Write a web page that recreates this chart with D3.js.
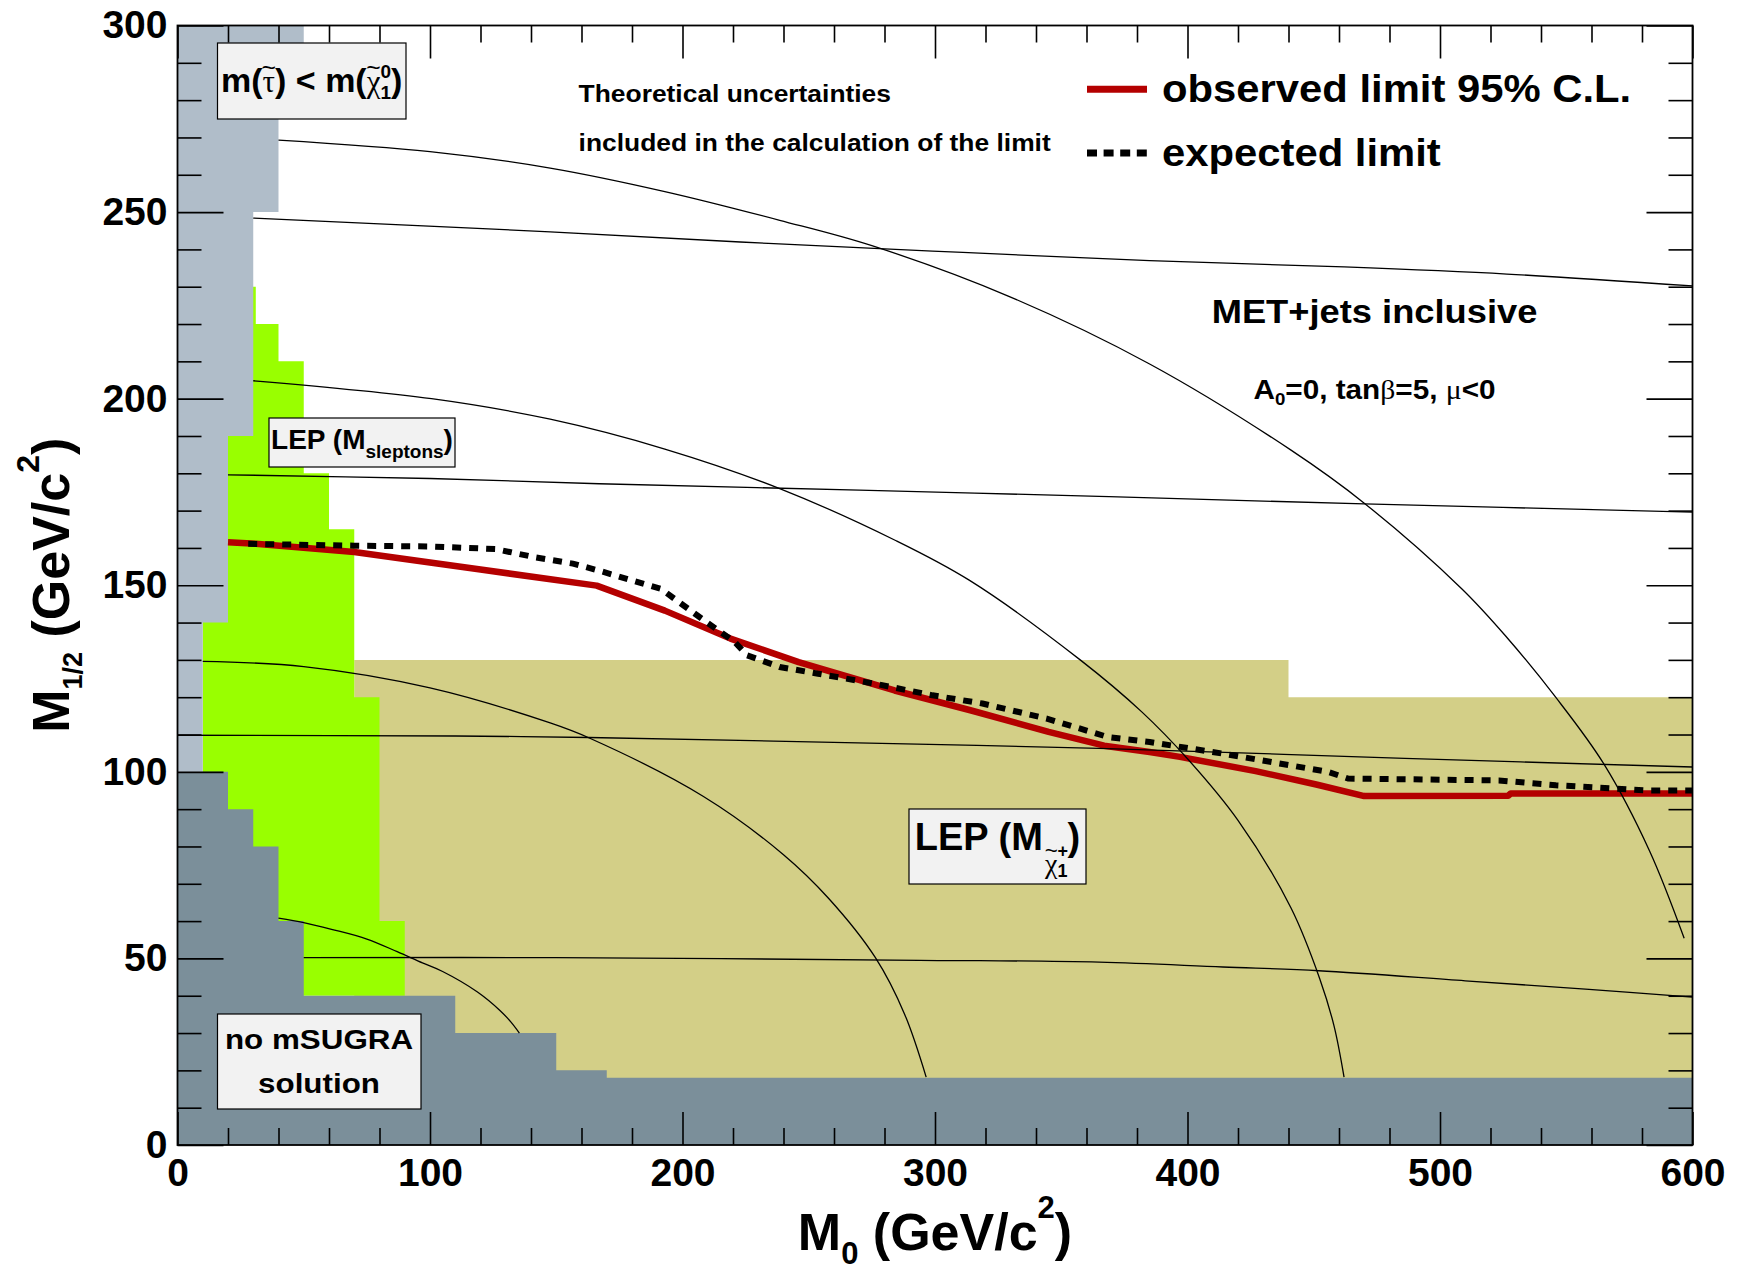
<!DOCTYPE html>
<html>
<head>
<meta charset="utf-8">
<script src="https://cdn.jsdelivr.net/npm/d3@7"></script>
<style>
  html, body { margin: 0; padding: 0; background: #fff; }
  svg text { white-space: pre; }
</style>
</head>
<body>
<svg id="chart" width="1738" height="1270"></svg>
<script>
// mSUGRA exclusion plane: M0 vs M1/2, A0=0, tanβ=5, μ<0

// ---- excluded / unphysical regions (M0, M1/2 vertices) ----
const lepCharginoRegion = [[70,130],[440,130],[440,120],[600,120],[600,0],[70,0]];
const lepSleptonRegion  = [[10,40],[90,40],[90,60],[80,60],[80,120],[70,120],[70,165],[60,165],
                           [60,180],[50,180],[50,210],[40,210],[40,220],[31,220],[31,230],[10,230]];
const stauLspRegion     = [[0,100],[10,100],[10,140],[20,140],[20,190],[30,190],[30,250],[40,250],
                           [40,280],[50,280],[50,300],[0,300]];
const noSolutionRegion  = [[0,0],[600,0],[600,18],[170,18],[170,20],[150,20],[150,30],[110,30],
                           [110,40],[50,40],[50,60],[40,60],[40,80],[30,80],[30,90],[20,90],[20,100],[0,100]];

// ---- iso-mass contours (thin black) ----
const isoGluinoA = [[30,248.4],[147.6,244.7],[234,241.6],[311,239.2],[385,237],[462,235.3],[526.5,233.4],[600,230.2]];
const isoGluinoB = [[20,179.6],[100,178.6],[167,177.2],[270,175.5],[365,173.8],[470,171.8],[600,169.6]];
const isoGluinoC = [[0,109.8],[110,109.6],[163,109.2],[274,107.7],[365,106.3],[486,103.6],[600,101.3]];
const isoGluinoD = [[50,50.2],[150,50.2],[294,49.5],[365,49],[414,47.7],[452,46.7],[510,44],[559,41.7],[600,39.6]];
const isoSquarkE = [[40,269.3],[100,266.2],[147.6,261.8],[193,255.5],[238.5,247.8],[275,241],[329,227.5],
                    [385,209.3],[441,186.2],[470,172],[508.7,149],[526.5,136],[545.8,120],[565,102],[583,78.8],[596.7,55.4]];
const isoSquarkF = [[30,204.8],[100.6,200],[147.6,194.5],[193,186.5],[238.5,175.9],[284.4,162],[313.7,151.3],
                    [357.5,130],[382,116],[400,103.5],[420,87],[441,63.5],[452.4,44.5],[458,32],[462,18.2]];
const isoSquarkG = [[10,129.6],[50,128.2],[100,122.5],[147.6,113.1],[163.3,109],[208.3,93.4],[240,77.8],
                    [258,66],[276.4,50.2],[288,35],[296.5,18.2]];
const isoSquarkH = [[40,60.8],[50,59.6],[61,57.8],[75,55.2],[87,51.8],[97,48.8],[105,46.5],
                    [118.8,41],[127.8,36],[132,33],[135.4,30]];

// ---- 95% C.L. limits ----
const observedLimit = [[20,161.5],[31,161.1],[70,158.9],[120,154.2],[166,149.9],[193,143.2],[219,135.7],
                       [246,129.4],[284,121.8],[314,116.5],[345,110.7],[367,107],[385,105.3],[397,104],
                       [427,100.2],[451,96.6],[470,93.5],[527,93.6],[528,94.2],[600,94.2]];
const expectedLimit = [[28,161.1],[70,160.6],[100,160.4],[126,159.7],[141.5,157.5],[156.6,155.8],[167,153.9],
                       [191.5,149],[208.5,140.6],[220.7,134.8],[225.6,131.2],[238.5,128.1],[253.7,126.3],
                       [276.3,123.6],[299,120.5],[318.8,118.3],[344.6,114.2],[368.6,109.3],[385,108],
                       [413.8,104.9],[455.6,100],[463.6,98.2],[523.3,97.7],[545.9,96.4],[583,95],[600,95]];

// ---- axes ----
const xDomain = [0, 600], yDomain = [0, 300];
const xTicks = d3.range(0, 601, 20), xMajor = 100;
const yTicks = d3.range(0, 301, 10), yMajor = 50;

const SANS = "'Liberation Sans', Arial, Helvetica, sans-serif";
const SERIF = "'Liberation Serif', 'DejaVu Serif', serif";

const svg = d3.select('#chart');
svg.append('rect').attr('width', 1738).attr('height', 1270).attr('fill', '#fff');

const plot = { left: 177.5, right: 1692.5, top: 25.5, bottom: 1145 };
const x = d3.scaleLinear().domain(xDomain).range([plot.left, plot.right]);
const y = d3.scaleLinear().domain(yDomain).range([plot.bottom, plot.top]);

svg.append('clipPath').attr('id', 'plotClip').append('rect')
  .attr('x', plot.left).attr('y', plot.top)
  .attr('width', plot.right - plot.left).attr('height', plot.bottom - plot.top);

const area = svg.append('g').attr('clip-path', 'url(#plotClip)');
const poly = d3.line().x(d => x(d[0])).y(d => y(d[1]));

area.append('path').attr('d', poly(lepCharginoRegion) + 'Z').attr('fill', '#d3cf87');
area.append('path').attr('d', poly(lepSleptonRegion) + 'Z').attr('fill', '#99ff00');
area.append('path').attr('d', poly(stauLspRegion) + 'Z').attr('fill', '#b0bdc9');
area.append('path').attr('d', poly(noSolutionRegion) + 'Z').attr('fill', '#7b8f9a');

// limit curves
const limitLine = d3.line().x(d => x(d[0])).y(d => y(d[1]));
area.append('path').attr('d', limitLine(observedLimit))
  .attr('fill', 'none').attr('stroke', '#b40000').attr('stroke-width', 6.5).attr('stroke-linejoin', 'round');
area.append('path').attr('d', limitLine(expectedLimit))
  .attr('fill', 'none').attr('stroke', '#000').attr('stroke-width', 6)
  .attr('stroke-dasharray', '9,8');

// theory contours
const contour = d3.line().x(d => x(d[0])).y(d => y(d[1])).curve(d3.curveCatmullRom);
[isoGluinoA, isoGluinoB, isoGluinoC, isoGluinoD, isoSquarkE, isoSquarkF, isoSquarkG, isoSquarkH]
  .forEach(pts => area.append('path').attr('d', contour(pts))
    .attr('fill', 'none').attr('stroke', '#000').attr('stroke-width', 1.3));

// ---- rich text helper: runs laid out left to right ----
function rich(parent, px, py, runs, opts = {}) {
  const anchor = opts.anchor || 'start', sx = opts.sx || 1;
  const outer = parent.append('g').attr('transform', `translate(${px},${py}) scale(${sx},1)`);
  const g = outer.append('g');
  let cx = 0;
  runs.forEach(r => {
    const dy = r.dy || 0;
    const t = g.append('text').attr('x', cx).attr('y', dy)
      .attr('font-size', r.size).attr('font-weight', r.weight || 'bold')
      .attr('font-family', r.family || SANS).attr('fill', '#000').text(r.text);
    const w = t.node().getComputedTextLength();
    if (r.tilde) {
      g.append('text').attr('x', cx + w / 2).attr('y', dy - r.size * 0.52)
        .attr('text-anchor', 'middle').attr('font-size', r.size * 0.8)
        .attr('font-family', SANS).attr('fill', '#000').text('~');
    }
    if (!r.hold) cx += w;
  });
  const shift = anchor === 'middle' ? -cx / 2 : anchor === 'end' ? -cx : 0;
  g.attr('transform', `translate(${shift},0)`);
  return outer;
}

function labelBox(x0, y0, x1, y1) {
  svg.append('rect').attr('x', x0).attr('y', y0).attr('width', x1 - x0).attr('height', y1 - y0)
    .attr('fill', '#f2f2f2').attr('stroke', '#000').attr('stroke-width', 1.2);
}

// stau LSP box
labelBox(217.5, 43, 406, 119);
rich(svg, 311.7, 92, [
  { text: 'm(', size: 34 },
  { text: 'τ', size: 31, family: SERIF, weight: 'normal', tilde: true },
  { text: ') < m(', size: 34 },
  { text: 'χ', size: 31, family: SERIF, weight: 'normal', tilde: true },
  { text: '0', size: 19, dy: -14, hold: true },
  { text: '1', size: 19, dy: 7 },
  { text: ')', size: 34 }
], { anchor: 'middle' });

// LEP slepton box
labelBox(269, 418, 455, 467);
rich(svg, 362, 449, [
  { text: 'LEP (M', size: 28 },
  { text: 'sleptons', size: 19, dy: 9 },
  { text: ')', size: 28 }
], { anchor: 'middle' });

// LEP chargino box
labelBox(909, 809, 1086, 884);
rich(svg, 997.5, 850, [
  { text: 'LEP (M', size: 38 },
  { text: ' ', size: 8 },
  { text: 'χ', size: 28, family: SERIF, weight: 'normal', dy: 23, tilde: true },
  { text: '+', size: 18, dy: 7, hold: true },
  { text: '1', size: 18, dy: 27 },
  { text: ')', size: 38 }
], { anchor: 'middle' });

// no mSUGRA solution box
labelBox(217.5, 1014, 421, 1109);
rich(svg, 319, 1049, [{ text: 'no mSUGRA', size: 28 }], { anchor: 'middle', sx: 1.12 });
rich(svg, 319, 1093, [{ text: 'solution', size: 28 }], { anchor: 'middle', sx: 1.12 });

// annotations
rich(svg, 578.6, 101.7, [{ text: 'Theoretical uncertainties', size: 24 }], { sx: 1.1 });
rich(svg, 578.6, 150.7, [{ text: 'included in the calculation of the limit', size: 24 }], { sx: 1.1 });
rich(svg, 1374.5, 323, [{ text: 'MET+jets inclusive', size: 33 }], { anchor: 'middle', sx: 1.1 });
rich(svg, 1374.5, 399, [
  { text: 'A', size: 27 },
  { text: '0', size: 17, dy: 6 },
  { text: '=0, tan', size: 27 },
  { text: 'β', size: 27, family: SERIF, weight: 'normal' },
  { text: '=5, ', size: 27 },
  { text: 'μ', size: 27, family: SERIF, weight: 'normal' },
  { text: '<0', size: 27 }
], { anchor: 'middle', sx: 1.1 });

// legend
svg.append('line').attr('x1', 1087).attr('x2', 1147).attr('y1', 89.3).attr('y2', 89.3)
  .attr('stroke', '#b40000').attr('stroke-width', 7);
svg.append('line').attr('x1', 1087).attr('x2', 1147).attr('y1', 153).attr('y2', 153)
  .attr('stroke', '#000').attr('stroke-width', 7).attr('stroke-dasharray', '10,6.6');
rich(svg, 1162, 101.7, [{ text: 'observed limit 95% C.L.', size: 38 }], { sx: 1.1 });
rich(svg, 1162, 165.5, [{ text: 'expected limit', size: 38 }], { sx: 1.1 });

// ---- frame and ticks ----
function styleAxis(g) {
  g.select('.domain').remove();
  g.selectAll('.tick line').attr('stroke', '#000').attr('stroke-width', 1.6);
  g.selectAll('.tick text').attr('font-size', 39).attr('font-weight', 'bold')
    .attr('font-family', SANS).attr('fill', '#000');
}

const gB = svg.append('g').attr('transform', `translate(0,${plot.bottom})`)
  .call(d3.axisBottom(x).tickValues(xTicks).tickSizeInner(-17).tickSizeOuter(0).tickPadding(13)
    .tickFormat(d => d % xMajor === 0 ? d : ''));
gB.selectAll('.tick line').attr('y2', d => d % xMajor === 0 ? -33 : -17);
styleAxis(gB);

const gT = svg.append('g').attr('transform', `translate(0,${plot.top})`)
  .call(d3.axisTop(x).tickValues(xTicks).tickSizeInner(-17).tickSizeOuter(0).tickFormat(''));
gT.selectAll('.tick line').attr('y2', d => d % xMajor === 0 ? 33 : 17);
styleAxis(gT);

const gL = svg.append('g').attr('transform', `translate(${plot.left},0)`)
  .call(d3.axisLeft(y).tickValues(yTicks).tickSizeInner(-24).tickSizeOuter(0).tickPadding(10)
    .tickFormat(d => d % yMajor === 0 ? d : ''));
gL.selectAll('.tick line').attr('x2', d => d % yMajor === 0 ? 46 : 24);
styleAxis(gL);

const gR = svg.append('g').attr('transform', `translate(${plot.right},0)`)
  .call(d3.axisRight(y).tickValues(yTicks).tickSizeInner(-24).tickSizeOuter(0).tickFormat(''));
gR.selectAll('.tick line').attr('x2', d => d % yMajor === 0 ? -46 : -24);
styleAxis(gR);

svg.append('rect').attr('x', plot.left).attr('y', plot.top)
  .attr('width', plot.right - plot.left).attr('height', plot.bottom - plot.top)
  .attr('fill', 'none').attr('stroke', '#000').attr('stroke-width', 1.8);

// ---- axis titles ----
rich(svg, (plot.left + plot.right) / 2, 1250, [
  { text: 'M', size: 52 },
  { text: '0', size: 31, dy: 14 },
  { text: ' (GeV/c', size: 52 },
  { text: '2', size: 31, dy: -32 },
  { text: ')', size: 52 }
], { anchor: 'middle' });

const yTitle = svg.append('g').attr('transform', `translate(69,${(plot.top + plot.bottom) / 2}) rotate(-90)`);
rich(yTitle, 0, 0, [
  { text: 'M', size: 52 },
  { text: '1/2', size: 27, dy: 13 },
  { text: ' (GeV/c', size: 52 },
  { text: '2', size: 32, dy: -30 },
  { text: ')', size: 52 }
], { anchor: 'middle' });
</script>
</body>
</html>
